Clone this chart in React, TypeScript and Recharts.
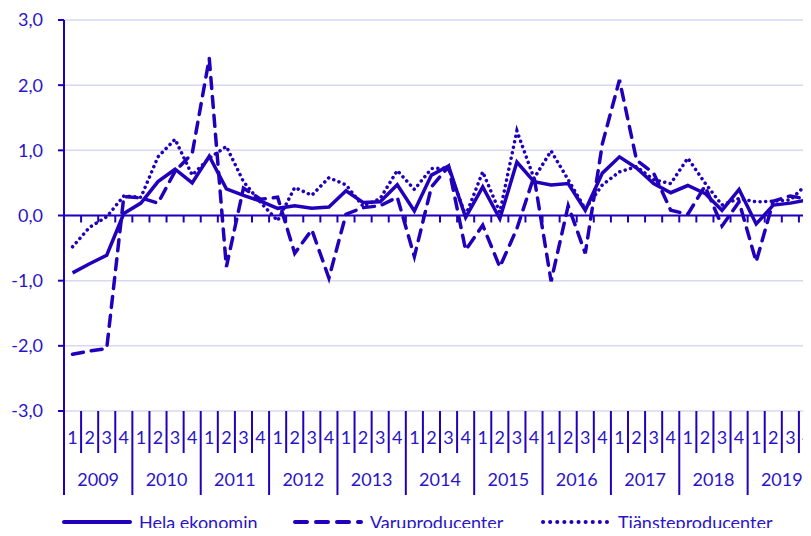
import React from 'react';
import {
  LineChart,
  Line,
  XAxis,
  YAxis,
  CartesianGrid,
  ReferenceLine,
} from 'recharts';

const years = ['2009', '2010', '2011', '2012', '2013', '2014', '2015', '2016', '2017', '2018', '2019'];
const quarterLabels = ['1', '2', '3', '4'];

const hela = [
  -0.88, -0.74, -0.61, 0.03, 0.19, 0.52, 0.71, 0.5, 0.91, 0.41, 0.31, 0.22,
  0.11, 0.15, 0.11, 0.13, 0.38, 0.2, 0.21, 0.47, 0.07, 0.62, 0.76, -0.03,
  0.44, -0.05, 0.82, 0.52, 0.47, 0.49, 0.08, 0.65, 0.9, 0.73, 0.49, 0.35,
  0.46, 0.34, 0.08, 0.4, -0.13, 0.16, 0.19, 0.24,
];
const varu = [
  -2.13, -2.08, -2.04, 0.29, 0.27, 0.19, 0.68, 0.95, 2.41, -0.79, 0.42, 0.25,
  0.28, -0.58, -0.22, -0.96, 0.02, 0.12, 0.15, 0.28, -0.63, 0.44, 0.75, -0.53,
  -0.15, -0.79, -0.2, 0.6, -1.01, 0.15, -0.58, 1.1, 2.08, 0.85, 0.65, 0.08,
  0.02, 0.45, -0.16, 0.21, -0.71, 0.22, 0.3, 0.25,
];
const tjanste = [
  -0.48, -0.18, -0.02, 0.3, 0.28, 0.9, 1.17, 0.62, 0.88, 1.06, 0.52, 0.2,
  -0.08, 0.43, 0.31, 0.58, 0.47, 0.14, 0.26, 0.69, 0.4, 0.72, 0.73, 0.0,
  0.67, 0.05, 1.3, 0.57, 0.99, 0.55, 0.1, 0.47, 0.67, 0.75, 0.55, 0.49,
  0.88, 0.5, 0.16, 0.26, 0.21, 0.22, 0.24, 0.49,
];
const yTicks = [-3, -2, -1, 0, 1, 2, 3];

const BLUE = '#2200bb';
const TEXT = '#2a14c8';
const GRID = '#d8d8f2';

const CHART_W = 830;
const CHART_H = 514;
const Y_AXIS_W = 64;
const RIGHT = 14;
const N = hela.length;
const STEP = (CHART_W - Y_AXIS_W - RIGHT) / N;

const data = hela.map((v, i) => ({
  x: i + 0.5,
  hela: v,
  varu: varu[i],
  tjanste: tjanste[i],
}));
const xTicks = Array.from({ length: N + 1 }, (_, k) => k);

const fmt = (v: number) => v.toFixed(1).replace('.', ',');

function ZeroLine(props: any) {
  const { x1, x2, y1 } = props;
  const step = (x2 - x1) / N;
  return (
    <g>
      <line x1={x1} y1={y1} x2={x2} y2={y1} stroke={BLUE} strokeWidth={2} />
      {xTicks.slice(1).map((k) => (
        <line key={k} x1={x1 + k * step} x2={x1 + k * step} y1={y1} y2={y1 + 7} stroke={BLUE} strokeWidth={2} />
      ))}
    </g>
  );
}

function QuarterTick(props: any) {
  const { x, y, payload } = props;
  const k = payload.value as number;
  const yearStart = k % 4 === 0;
  return (
    <g>
      <line x1={x} x2={x} y1={y} y2={y + (yearStart ? 84 : 42)} stroke={BLUE} strokeWidth={2} />
      {k < N && (
        <text x={x + STEP / 2} y={y + 28} textAnchor="middle" dominantBaseline="middle" fill={TEXT} fontSize={18}>
          {quarterLabels[k % 4]}
        </text>
      )}
      {yearStart && k < N && (
        <text x={x + STEP * 2} y={y + 70} textAnchor="middle" dominantBaseline="middle" fill={TEXT} fontSize={18}>
          {years[k / 4]}
        </text>
      )}
    </g>
  );
}

const legendItems = [
  { name: 'Hela ekonomin', dash: undefined as string | undefined, width: 231 },
  { name: 'Varuproducenter', dash: '12 9', width: 248 },
  { name: 'Tjänsteproducenter', dash: '0.1 7', width: 270 },
];

function ChartLegend() {
  return (
    <div style={{ display: 'flex', alignItems: 'center', height: 22, paddingLeft: 62, marginTop: -3 }}>
      {legendItems.map((it) => (
        <div key={it.name} style={{ display: 'flex', alignItems: 'center', width: it.width }}>
          <svg width={70} height={10} style={{ marginRight: 7 }}>
            <line
              x1={2}
              x2={68}
              y1={5}
              y2={5}
              stroke={BLUE}
              strokeWidth={4}
              strokeDasharray={it.dash}
              strokeLinecap="round"
            />
          </svg>
          <span style={{ color: TEXT, fontSize: 18, lineHeight: '22px', whiteSpace: 'nowrap' }}>{it.name}</span>
        </div>
      ))}
    </div>
  );
}

export default function App() {
  return (
    <div style={{ margin: -8, width: 811, height: 536, overflow: 'hidden', fontFamily: 'Lato, sans-serif', background: '#fff' }}>
      <LineChart width={CHART_W} height={CHART_H} data={data} margin={{ top: 20, right: RIGHT, bottom: 0, left: 0 }}>
        <CartesianGrid vertical={false} stroke={GRID} strokeWidth={1.5} />
        <XAxis
          dataKey="x"
          type="number"
          domain={[0, N]}
          ticks={xTicks}
          interval={0}
          axisLine={false}
          tickLine={false}
          tickSize={0}
          tickMargin={0}
          height={103}
          tick={<QuarterTick />}
        />
        <YAxis
          type="number"
          domain={[-3, 3]}
          ticks={yTicks}
          tickFormatter={fmt}
          width={Y_AXIS_W}
          axisLine={{ stroke: BLUE, strokeWidth: 2 }}
          tickLine={{ stroke: BLUE, strokeWidth: 2 }}
          tickSize={6}
          tickMargin={15}
          tick={{ fill: TEXT, fontSize: 18 }}
        />
        <ReferenceLine y={0} shape={(p: any) => <ZeroLine {...p} />} />
        <Line
          dataKey="tjanste"
          stroke={BLUE}
          strokeWidth={3.5}
          strokeDasharray="0.1 5.5"
          strokeLinecap="round"
          dot={false}
          isAnimationActive={false}
        />
        <Line
          dataKey="varu"
          stroke={BLUE}
          strokeWidth={3.5}
          strokeDasharray="11 8"
          strokeLinecap="round"
          dot={false}
          isAnimationActive={false}
        />
        <Line dataKey="hela" stroke={BLUE} strokeWidth={3.5} dot={false} isAnimationActive={false} />
      </LineChart>
      <ChartLegend />
    </div>
  );
}
